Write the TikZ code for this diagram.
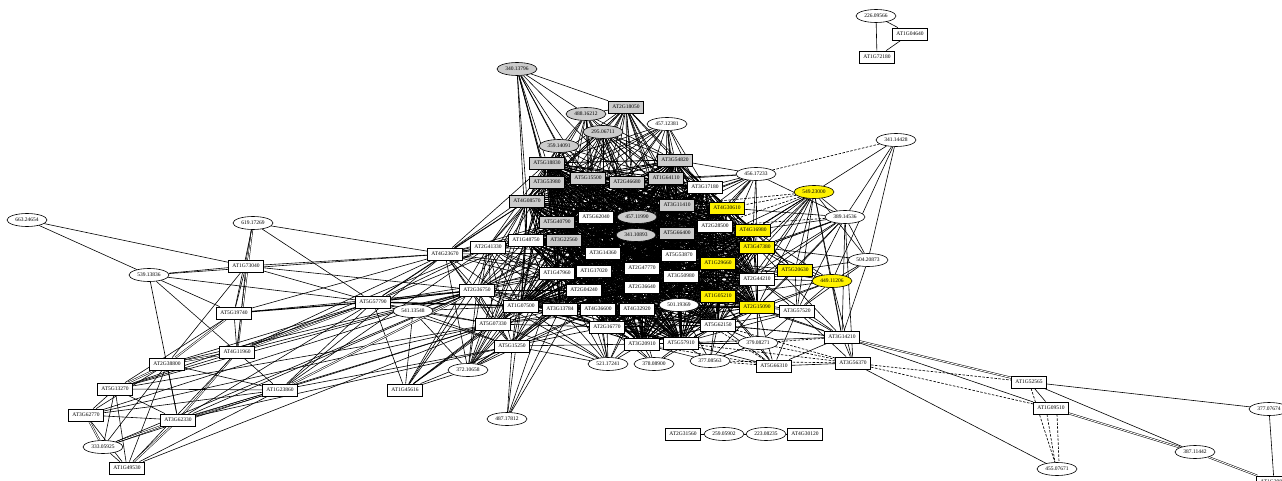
\documentclass[tikz,border=0pt]{standalone}
\usepackage{fontspec}
\setmainfont{Liberation Serif}
\usetikzlibrary{shapes.geometric}
\pgfdeclarelayer{edges}
\pgfdeclarelayer{paper}
\pgfsetlayers{paper,edges,main}
\tikzset{
  lab/.style={font=\fontsize{5.5}{6}\selectfont},
  gene/.style={lab,draw,rectangle,fill=white,line width=0.8pt,inner xsep=4pt,inner ysep=0pt,minimum height=12pt,minimum width=35pt},
  met/.style={lab,draw,ellipse,fill=white,line width=0.6pt,inner sep=0pt,minimum width=40pt,minimum height=13pt},
  grayf/.style={fill=black!20},
  yel/.style={fill=yellow},
  edg/.style={line width=0.6pt},
  coreedg/.style={line width=0.85pt},
  dsh/.style={line width=0.65pt,dash pattern=on 2.5pt off 1.5pt},
  dbl/.style={line width=0.5pt,double,double distance=0.9pt},
}
\newcommand\myfan[3][edg]{\foreach \q in {#3} {\draw[#1] (#2) -- (\q);}}
\def\corelist{n08570,n53980,n18830,n15500,n46680,n64110,n54820,n17180,n11410,n62040,e457b,n40790,n48750,n22560,e341b,n66400,n14360,n53870,n47960,n17020,n47770,n50980,n04240,n36640,n07500,n13784,n36600,n32920,e501,n16770,n20910,n57910,n62150,n28500,n30610,n16980,n47380,n29660,n44210,n05210,n15090}
\begin{document}
\begin{tikzpicture}[x=1pt,y=-1pt]
\begin{pgfonlayer}{paper}
\fill[white] (0,0) rectangle (1282,481);
\end{pgfonlayer}
\useasboundingbox (0,0) rectangle (1282,481);
% top right
\node[met] (e226) at (876,16) {226.09566};
\node[gene] (n04640) at (910,34) {AT1G04640};
\node[gene] (n72180) at (877,57) {AT1G72180};
% bottom chain
\node[gene] (n31560) at (683,434) {AT2G31560};
\node[met] (e259) at (724,434) {259.05902};
\node[met] (e223) at (766,434) {223.08235};
\node[gene] (n30120) at (805,434) {AT4G30120};
% left group
\node[met] (e663) at (27,220) {663.24654};
\node[met] (e619) at (253,223) {619.17269};
\node[gene] (n73040) at (246,266) {AT1G73040};
\node[met] (e539) at (149,275) {539.13836};
\node[gene] (n19740) at (234,313) {AT5G19740};
\node[gene] (n11960) at (237,352) {AT4G11960};
\node[gene] (n38800) at (167,364) {AT2G38800};
\node[gene] (n13270) at (115,389) {AT5G13270};
\node[gene] (n23860) at (280,390) {AT1G23860};
\node[gene] (n62770) at (86,415) {AT3G62770};
\node[gene] (n62330) at (178,420) {AT3G62330};
\node[met] (e333) at (103,447) {333.05925};
\node[gene] (n49530) at (127,468) {AT1G49530};
% middle left
\node[gene] (n57790) at (373,302) {AT5G57790};
\node[gene] (n23670) at (445,254) {AT4G23670};
\node[gene] (n41330) at (488,247) {AT2G41330};
\node[gene] (n36750) at (477,290) {AT2G36750};
\node[met] (e541) at (413,311) {541.13548};
\node[gene] (n07330) at (493,324) {AT5G07330};
\node[gene] (n15250) at (512,346) {AT5G15250};
\node[met] (e372) at (468,370) {372.10658};
\node[gene] (n45616) at (405,390) {AT1G45616};
\node[met] (e487) at (507,419) {487.17812};
% top centre
\node[met,grayf] (e340) at (517,69) {340.13796};
\node[gene,grayf] (n18050) at (626,107) {AT2G18050};
\node[met,grayf] (e488) at (586,114) {488.16212};
\node[met] (e457a) at (667,124) {457.12381};
\node[met,grayf] (e295) at (603,132) {295.06711};
\node[met,grayf] (e359) at (559,146) {359.14091};
\node[gene,grayf] (n54820) at (675,160) {AT3G54820};
\node[gene,grayf] (n18830) at (547,163) {AT5G18830};
\node[gene,grayf] (n15500) at (588,178) {AT5G15500};
\node[gene,grayf] (n53980) at (547,182) {AT3G53980};
\node[gene,grayf] (n46680) at (627,182) {AT2G46680};
\node[gene,grayf] (n64110) at (666,178) {AT1G64110};
\node[gene] (n17180) at (705,187) {AT3G17180};
% centre
\node[gene,grayf] (n08570) at (527,201) {AT4G08570};
\node[gene,grayf] (n11410) at (677,205) {AT3G11410};
\node[gene] (n62040) at (596,217) {AT5G62040};
\node[met,grayf] (e457b) at (637,217) {457.11990};
\node[gene,grayf] (n40790) at (557,222) {AT5G40790};
\node[gene] (n48750) at (526,240) {AT1G48750};
\node[gene,grayf] (n22560) at (564,240) {AT3G22560};
\node[met,grayf] (e341b) at (636,235) {341.10893};
\node[gene,grayf] (n66400) at (677,233) {AT5G66400};
\node[gene] (n14360) at (603,253) {AT3G14360};
\node[gene] (n53870) at (679,255) {AT5G53870};
\node[gene] (n47960) at (557,273) {AT1G47960};
\node[gene] (n17020) at (594,271) {AT1G17020};
\node[gene] (n47770) at (642,268) {AT2G47770};
\node[gene] (n50980) at (681,276) {AT3G50980};
\node[gene] (n04240) at (584,290) {AT2G04240};
\node[gene] (n36640) at (642,287) {AT2G36640};
\node[gene] (n07500) at (521,306) {AT1G07500};
\node[gene] (n13784) at (560,309) {AT3G13784};
\node[gene] (n36600) at (598,309) {AT4G36600};
\node[gene] (n32920) at (637,309) {AT4G32920};
\node[met] (e501) at (679,305) {501.19369};
\node[gene] (n16770) at (607,327) {AT2G16770};
\node[gene] (n20910) at (642,344) {AT3G20910};
\node[gene] (n57910) at (681,343) {AT5G57910};
\node[met] (e521) at (608,364) {521.17241};
\node[met] (e378) at (654,364) {378.08900};
\node[met] (e377b) at (710,361) {377.08563};
% right
\node[gene,yel] (n30610) at (727,208) {AT4G30610};
\node[gene] (n28500) at (715,226) {AT2G28500};
\node[gene,yel] (n16980) at (753,230) {AT4G16980};
\node[gene,yel] (n47380) at (757,247) {AT3G47380};
\node[gene,yel] (n29660) at (718,263) {AT1G29660};
\node[gene,yel] (n20630) at (795,270) {AT5G20630};
\node[gene] (n44210) at (757,279) {AT2G44210};
\node[gene,yel] (n05210) at (718,296) {AT1G05210};
\node[gene,yel] (n15090) at (757,307) {AT2G15090};
\node[gene] (n57520) at (797,311) {AT3G57520};
\node[gene] (n62150) at (718,325) {AT5G62150};
\node[met] (e379) at (758,343) {379.08271};
\node[gene] (n66310) at (774,366) {AT5G66310};
\node[gene] (n14210) at (842,337) {AT3G14210};
\node[gene] (n56370) at (853,363) {AT3G56370};
\node[met] (e456) at (756,174) {456.17233};
\node[met] (e341c) at (896,140) {341.14428};
\node[met,yel] (e549) at (814,192) {549.23000};
\node[met] (e389) at (845,217) {389.14536};
\node[met] (e504) at (868,260) {504.20873};
\node[met,yel] (e449) at (832,281) {449.11206};
% far right
\node[gene] (n52565) at (1029,382) {AT1G52565};
\node[gene] (n09510) at (1051,408) {AT1G09510};
\node[met] (e377c) at (1269,409) {377.07674};
\node[met] (e387) at (1195,452) {387.11442};
\node[met] (e455) at (1057,469) {455.07671};
\node[gene] (n29850) at (1274,482) {AT1G29850};

\begin{pgfonlayer}{edges}
% small components
\draw[edg] (e226) -- (n72180); \draw[edg] (e226) -- (n04640); \draw[edg] (n04640) -- (n72180);
\draw[edg] (n31560) -- (e259); \draw[edg] (e259) -- (e223); \draw[edg] (e223) -- (n30120);
% dense core
\foreach \a [count=\i] in \corelist {
  \foreach \b [count=\j] in \corelist {
    \ifnum\j>\i \draw[coreedg] (\a) -- (\b); \fi
  }
}
% top fans
\myfan{e340}{n18050,e488,e359,n18830,n53980,n08570,n15500,n40790,n48750,n22560,n62040,n46680}
\myfan{n18050}{e488,e295,n18830,n15500,n46680,n64110,n54820,n53980,n11410,n66400,e457b,n62040,n17180,n40790,n22560,n14360,n53870,n50980,n08570,e341b}
\myfan{e488}{n18830,n15500,n53980,n46680,n64110,n08570,n40790,n62040,e457b,n14360,n22560,n17020,n11410,n54820,e341b}
\myfan{e295}{n18830,n15500,n53980,n46680,n64110,n54820,n08570,n40790,n62040,e457b,e341b,n11410,n66400,n22560,n14360,n47770,n17180,n48750}
\myfan{e359}{n18830,n15500,n53980,n08570,n40790,n46680,n62040,n48750,n22560,n64110,n14360,n47960,e457b}
\myfan{e457a}{n54820,n64110,n46680,n15500,n18830,n17180,n11410,n66400,n62040,e457b,n53980,n08570,n40790,n53870,n28500}
% left-centre fans
\myfan{n23670}{n41330,n36750,n08570,n48750,n40790,n22560,n47960,n14360,n07500,n07330,n53980,n18830,n17020,n04240,e372,n62040,n15250}
\myfan{n41330}{n36750,n08570,n48750,n40790,n22560,n47960,n14360,n07500,n07330,n15250,n53980,n18830,n13784,n04240,n17020,n62040,e341b,n36600}
\myfan{n36750}{n07500,n07330,n15250,n47960,n48750,n08570,n40790,n22560,n14360,n17020,n04240,n13784,n36600,n53980,n62040,n16770,e457b,n32920}
\myfan{n07330}{n07500,n15250,n47960,n04240,n13784,n48750,n08570,n22560,n17020,n16770,n36600,n14360,n40790,n32920}
\myfan{n15250}{n07500,n13784,n16770,n04240,n47960,n36600,n17020,n20910,n32920,n48750,n22560,n14360}
\myfan{n57790}{n23670,n36750,e541,n41330,n07330,n15250,n48750,n08570,n47960,n45616}
\draw[line width=1.4pt] (n57790) -- (n07500);
\draw[line width=1pt] (n57790) -- (n36750);
\myfan{e541}{n45616,e372,n07330,n36750,n15250,n07500}
\myfan{e372}{n36750,n41330,n48750,n07500,n07330,n15250,n47960,n04240,n13784,n45616,n08570,n40790,n22560,n36600}
\myfan{n45616}{n36750,n41330,n07500,n07330,n15250,n47960,n08570}
\myfan{e487}{n15250,n07500,n13784,n04240,n47960}
\myfan{e521}{n15250,n07330,n07500,n13784,n16770,n36600,n32920,n20910,n04240,n36750,n47960,n36640,n17020,e501}
\myfan{e378}{n20910,n16770,n57910,n32920,n36600,n62150}
\myfan{e377b}{n57910,n62150,e501,n20910,e379,n05210,n15090}
% left group
\draw[edg] (e663) -- (n73040); \draw[edg] (e663) -- (e539);
\draw[dbl] (e619) -- (n73040); \draw[dbl] (e619) -- (n11960);
\myfan{e619}{n19740,n23670,n57790}
\myfan{n73040}{e539,n23670,n57790,n38800,n19740,n11960,n36750}
\myfan{e539}{n19740,n11960,n62330,n57790,n23670}
\draw[line width=1.1pt] (n19740) -- (n57790);
\draw[dbl] (n19740) -- (n38800);
\myfan{n19740}{n13270,n23670,n36750,n11960}
\draw[dbl] (n11960) -- (n57790); \draw[dbl] (n11960) -- (n38800); \draw[dbl] (n11960) -- (n62330);
\myfan{n11960}{n13270,n23860,n49530,n36750,n23670,n41330}
\draw[dbl] (n38800) -- (n13270);
\myfan{n38800}{n23860,n62330,e333,n49530,n62770,n57790,n36750}
\myfan{n13270}{n23860,n62330,e333,n49530,n62770,n57790,n36750,n07330}
\draw[dbl] (n62770) -- (e333);
\myfan{n62770}{n23860,n62330,n49530,n36750,n07330}
\draw[dbl] (n62330) -- (n23860); \draw[dbl] (n62330) -- (e333); \draw[dbl] (n62330) -- (n49530);
\myfan{n62330}{n57790,n36750,n07330,n15250}
\myfan{e333}{n49530,n23860,n36750}
\myfan{n49530}{n23860,n07330}
\draw[dbl] (n23860) -- (n36750);
\myfan{n23860}{n57790,n23670,n07330,n15250,n41330}
% right side
\draw[dsh] (e456) -- (e341c);
\myfan{e456}{n17180,n64110,n54820,n11410,n30610,n28500,n66400,n16980,n47380,n53870,n29660,e389,n46680,e457b,e341b}
\myfan{e341c}{e549,e389,e504,e449}
\myfan[dsh]{e549}{n30610,n16980,n28500,n11410}
\myfan{e549}{n47380,n29660,n20630,n44210,n15090,n57520,n05210,n14210,e449,e389,e504,n16980,n50980,n53870,n62150}
\myfan{e389}{n16980,n47380,n20630,n44210,n57520,n14210,n15090,n29660,n30610,e504,n56370,n05210}
\myfan[dsh]{e389}{n28500,n29660}
\myfan{e449}{n20630,n57520,n44210,n15090,n47380,n14210,n56370,n16980,n05210,n29660,n62150}
\myfan{e504}{n20630,n47380,n14210,n57520,e449}
\myfan{n20630}{n47380,n44210,n15090,n16980,n29660,n05210,n57520,n30610,n50980}
\myfan{n57520}{n15090,n44210,n05210,n62150,n14210,n66310,e379,n56370,n57910}
\myfan{n14210}{n15090,n44210,n05210,n62150,n66310,n56370,n57910,n47380}
\myfan[dsh]{n14210}{e379,n62150}
\myfan{n66310}{n62150,n57910,n15090,n05210,n56370,e379}
\myfan[dsh]{n66310}{e377b,n20910,e501}
\myfan{e379}{n62150,n57910,n15090,n05210,n44210}
\myfan[dsh]{e379}{n56370,e377b,n57910}
\myfan[dsh]{n56370}{n62150,e377b,n57910}
% far right
\draw[dbl] (n14210) -- (n52565);
\draw[edg] (n14210) -- (n09510);
\draw[dsh] (n56370) -- (n52565);
\draw[dsh] (n56370) -- (n09510);
\draw[edg] (n56370) -- (e455);
\draw[edg] (n52565) -- (n09510);
\draw[dsh] (n52565) -- (e455);
\draw[dsh] ([xshift=-4pt]n09510.south) -- ([xshift=-2pt]e455.north);
\draw[dsh] ([xshift=6pt]n09510.south) -- ([xshift=2pt]e455.north);
\draw[edg] (n52565) -- (e377c);
\draw[edg] (n52565) -- (e387);
\draw[dbl] (n09510) -- (e387);
\draw[dbl] (e387) -- (n29850);
\draw[edg] (e377c) -- (n29850);
\end{pgfonlayer}
\end{tikzpicture}
\end{document}
